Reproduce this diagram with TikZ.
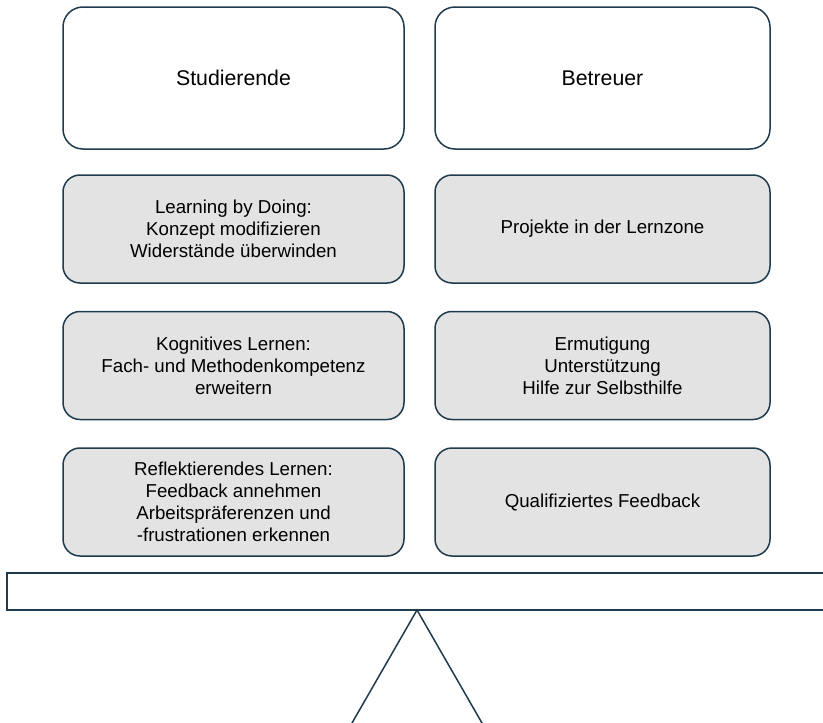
\documentclass[tikz,border=0pt]{standalone}
\usepackage{fontspec}
\setmainfont{Liberation Sans}
\definecolor{edge}{HTML}{1F3B4D}
\definecolor{boxfill}{HTML}{E3E3E3}
\tikzset{
  base/.style={draw=edge, line width=1.5pt, rounded corners=20pt, inner sep=0pt, outer sep=0pt, align=center, text=black},
  headbox/.style={base, fill=white, minimum height=142pt, font=\fontsize{21.3pt}{25pt}\selectfont},
  itembox/.style={base, fill=boxfill, rounded corners=17pt, minimum height=108pt, font=\fontsize{18.7pt}{22pt}\selectfont},
  leftcol/.style={minimum width=341pt},
  rightcol/.style={minimum width=335pt},
}
\begin{document}
\begin{tikzpicture}[x=1pt,y=-1pt]
\useasboundingbox (0,0) rectangle (823,723);
% header boxes
\node[headbox,leftcol] (stud) at (233.5,78) {Studierende};
\node[headbox,rightcol] (betr) at (602.5,78) {Betreuer};
% row 2
\node[itembox,leftcol] (l1) at (233.5,229) {Learning by Doing:\\Konzept modifizieren\\Widerstände überwinden};
\node[itembox,rightcol] (r1) at (602.5,229) {Projekte in der Lernzone};
% row 3
\node[itembox,leftcol] (l2) at (233.5,365.5) {Kognitives Lernen:\\Fach- und Methodenkompetenz\\erweitern};
\node[itembox,rightcol] (r2) at (602.5,365.5) {Ermutigung\\Unterstützung\\Hilfe zur Selbsthilfe};
% row 4
\node[itembox,leftcol] (l3) at (233.5,502) {Reflektierendes Lernen:\\Feedback annehmen\\Arbeitspräferenzen und\\-frustrationen erkennen};
\node[itembox,rightcol] (r3) at (602.5,502) {Qualifiziertes Feedback};
% seesaw
\draw[draw=edge, line width=1.5pt, fill=white] (7,573) rectangle (840,610);
\coordinate (apex) at (417,610);
\coordinate (footl) at (348,730);
\coordinate (footr) at (486,730);
\draw[edge, line width=1.5pt, line join=miter] (footl) -- (apex) -- (footr);
\end{tikzpicture}
\end{document}
